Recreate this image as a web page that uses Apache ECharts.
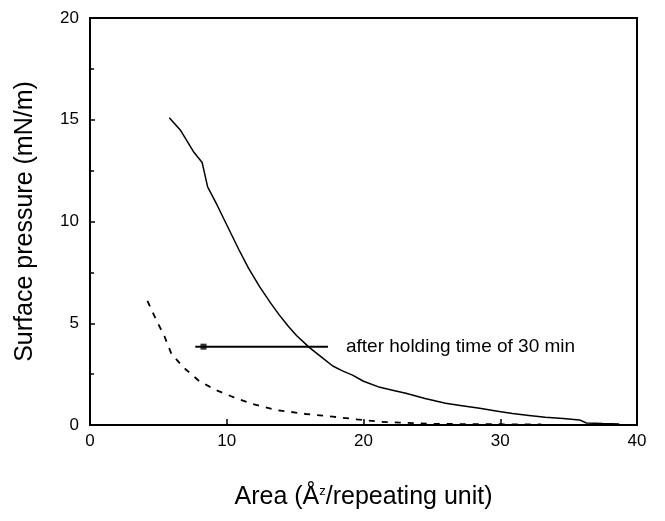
<!DOCTYPE html>
<html>
<head>
<meta charset="utf-8">
<script src="https://cdn.jsdelivr.net/npm/echarts@6/dist/echarts.min.js"></script>
<style>
  html, body { margin: 0; padding: 0; background: #fff; }
  #chart { width: 665px; height: 521px; }
</style>
</head>
<body>
<div id="chart"></div>
<script>
// isotherm after holding (solid)
const solidArea = [5.8, 6.6, 7.6, 8.2, 8.4, 8.6, 9.3, 9.95, 10.9, 11.6, 12.4, 13.2, 13.85, 14.5, 15.1, 16.05, 17.0, 17.75, 18.5, 19.2, 20.0, 21.2, 22.2, 23.1, 24.5, 26.0, 27.2, 28.5, 29.8, 30.9, 32.1, 33.3, 34.6, 35.8, 36.3, 37.5, 38.7]
const solidPressure = [15.1, 14.5, 13.4, 12.9, 12.3, 11.7, 10.8, 9.9, 8.6, 7.7, 6.8, 6.0, 5.4, 4.85, 4.4, 3.8, 3.3, 2.9, 2.65, 2.45, 2.15, 1.85, 1.7, 1.56, 1.3, 1.07, 0.95, 0.82, 0.68, 0.56, 0.47, 0.38, 0.32, 0.25, 0.1, 0.07, 0.05]

// initial isotherm (dashed)
const dashedArea = [4.2, 4.85, 5.45, 5.95, 6.8, 8.0, 9.2, 10.4, 11.7, 13.6, 15.8, 17.75, 19.5, 21.2, 24.8, 28.0, 33.0]
const dashedPressure = [6.1, 5.15, 4.35, 3.5, 2.85, 2.15, 1.72, 1.39, 1.07, 0.74, 0.54, 0.41, 0.28, 0.16, 0.06, 0.04, 0.03]

// arrow pointing to the solid curve
const arrowArea = [7.7, 17.4]
const arrowPressure = [3.85, 3.85]
const arrowHead = [8.3, 3.85]
const noteText = 'after holding time of 30 min'

const xTicks = [0, 40, 10]
const yTicks = [0, 20, 5]

const zip = (xs, ys) => xs.map((x, i) => [x, ys[i]])

const chart = echarts.init(document.getElementById('chart'))
chart.setOption({
  animation: false,
  textStyle: { fontFamily: 'Liberation Sans, Arial, sans-serif' },
  grid: {
    left: 90, right: 28, top: 18, bottom: 96,
    show: true, borderColor: '#000', borderWidth: 2, backgroundColor: 'transparent',
  },
  xAxis: {
    type: 'value',
    min: xTicks[0], max: xTicks[1], interval: xTicks[2],
    name: 'Area (Å{sup|z}/repeating unit)',
    nameLocation: 'middle',
    nameGap: 60,
    nameTextStyle: {
      fontSize: 25, color: '#000',
      rich: { sup: { fontSize: 13, verticalAlign: 'top', padding: [0, 0, 12, 0], color: '#000' } },
    },
    axisLine: { lineStyle: { color: '#000', width: 2 } },
    axisTick: { inside: true, length: 6, lineStyle: { color: '#000', width: 1.5 } },
    axisLabel: { fontSize: 17, color: '#000', margin: 8 },
    splitLine: { show: false },
  },
  yAxis: {
    type: 'value',
    min: yTicks[0], max: yTicks[1], interval: yTicks[2],
    name: 'Surface pressure (mN/m)',
    nameLocation: 'middle',
    nameGap: 52,
    nameTextStyle: { fontSize: 25, color: '#000' },
    axisLine: { lineStyle: { color: '#000', width: 2 } },
    axisTick: { inside: true, length: 5, lineStyle: { color: '#000', width: 1.5 } },
    minorTick: { show: true, splitNumber: 2, length: 4, lineStyle: { color: '#000', width: 1.5 } },
    axisLabel: { fontSize: 17, color: '#000', margin: 11 },
    splitLine: { show: false },
  },
  series: [
    {
      name: 'after holding',
      type: 'line',
      data: zip(solidArea, solidPressure),
      symbol: 'none',
      lineStyle: { color: '#000', width: 1.5 },
    },
    {
      name: 'initial',
      type: 'line',
      data: zip(dashedArea, dashedPressure),
      symbol: 'none',
      lineStyle: { color: '#000', width: 1.8, type: [6, 7] },
    },
    {
      name: 'arrow',
      type: 'line',
      data: zip(arrowArea, arrowPressure),
      symbol: 'none',
      lineStyle: { color: '#000', width: 2 },
      endLabel: {
        show: true, formatter: noteText, fontSize: 19, color: '#000', distance: 18,
      },
    },
    {
      name: 'arrowHead',
      type: 'scatter',
      data: [arrowHead],
      symbol: 'rect',
      symbolSize: 6,
      itemStyle: { color: '#000' },
    },
  ],
})
</script>
</body>
</html>
